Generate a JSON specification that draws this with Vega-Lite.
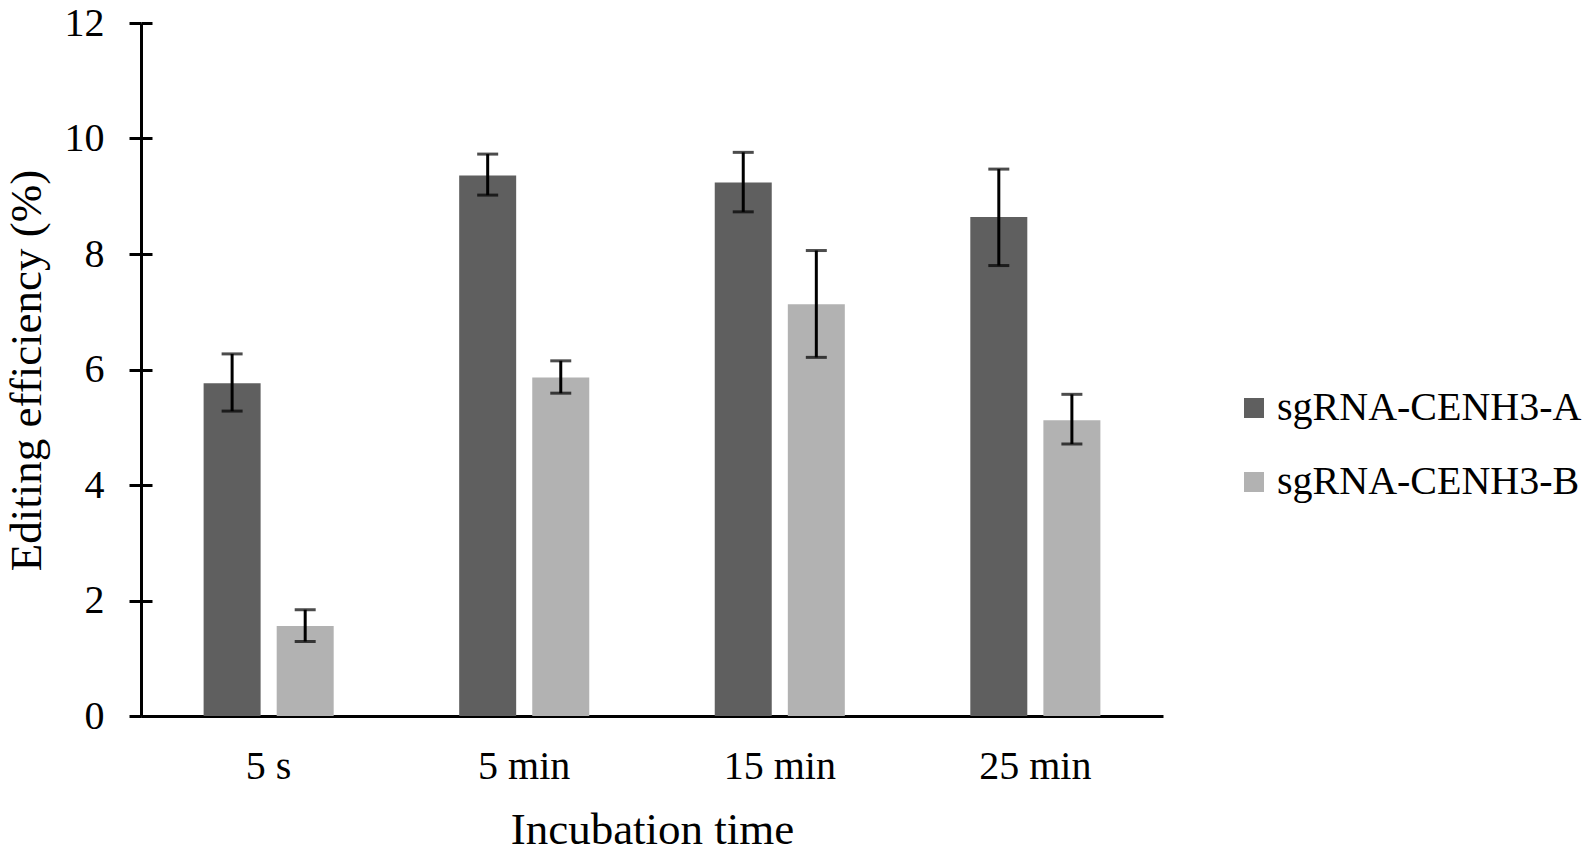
{
  "$schema": "https://vega.github.io/schema/vega-lite/v6.json",
  "autosize": {"type": "none"},
  "width": 1022,
  "height": 693,
  "padding": {"left": 141, "top": 23, "right": 419, "bottom": 138},
  "background": "white",
  "config": {
    "font": "Liberation Serif",
    "view": {"stroke": null},
    "axis": {"labelFont": "Liberation Serif", "titleFont": "Liberation Serif", "labelColor": "black", "titleColor": "black", "domainColor": "black", "tickColor": "black", "titleFontWeight": "normal"},
    "legend": {"labelFont": "Liberation Serif"}
  },
  "data": {
    "values": [
      {"time": "5 s", "group": "sgRNA-CENH3-A", "value": 5.76, "lo": 5.28, "hi": 6.27},
      {"time": "5 s", "group": "sgRNA-CENH3-B", "value": 1.56, "lo": 1.29, "hi": 1.84},
      {"time": "5 min", "group": "sgRNA-CENH3-A", "value": 9.36, "lo": 9.02, "hi": 9.73},
      {"time": "5 min", "group": "sgRNA-CENH3-B", "value": 5.86, "lo": 5.59, "hi": 6.15},
      {"time": "15 min", "group": "sgRNA-CENH3-A", "value": 9.24, "lo": 8.73, "hi": 9.76},
      {"time": "15 min", "group": "sgRNA-CENH3-B", "value": 7.13, "lo": 6.21, "hi": 8.06},
      {"time": "25 min", "group": "sgRNA-CENH3-A", "value": 8.64, "lo": 7.8, "hi": 9.47},
      {"time": "25 min", "group": "sgRNA-CENH3-B", "value": 5.12, "lo": 4.71, "hi": 5.57}
    ]
  },
  "encoding": {
    "x": {
      "field": "time",
      "type": "nominal",
      "sort": ["5 s", "5 min", "15 min", "25 min"],
      "scale": {"paddingInner": 0.491, "paddingOuter": 0.245},
      "axis": {
        "title": "Incubation time",
        "titleFontSize": 45,
        "titleBaseline": "alphabetic",
        "titleX": 511,
        "titleY": 127,
        "labelFontSize": 40,
        "labelAngle": 0,
        "labelBaseline": "alphabetic",
        "labelPadding": 62,
        "ticks": false,
        "domainWidth": 3
      }
    },
    "xOffset": {
      "field": "group",
      "type": "nominal",
      "scale": {"paddingInner": 0.22, "paddingOuter": 0}
    }
  },
  "resolve": {"scale": {"y": "independent"}, "axis": {"y": "independent"}},
  "layer": [
    {
      "layer": [
        {
          "mark": {"type": "bar"},
          "encoding": {
            "y": {
              "field": "value",
              "type": "quantitative",
              "scale": {"domain": [0, 12], "nice": false},
              "axis": {
                "orient": "left",
                "title": "Editing efficiency (%)",
                "titleFontSize": 45,
                "titleAngle": -90,
                "titleBaseline": "alphabetic",
                "titleAlign": "center",
                "titleX": -101,
                "titleY": 347,
                "values": [0, 2, 4, 6, 8, 10, 12],
                "format": "d",
                "labelFontSize": 40,
                "labelPadding": 25,
                "tickSize": 12,
                "tickWidth": 3,
                "domainWidth": 3,
                "grid": false
              }
            },
            "color": {
              "field": "group",
              "type": "nominal",
              "scale": {"domain": ["sgRNA-CENH3-A", "sgRNA-CENH3-B"], "range": ["#5f5f5f", "#b2b2b2"]},
              "legend": {
                "title": null,
                "orient": "none",
                "legendX": 1093,
                "legendY": 365,
                "padding": 0,
                "symbolType": "square",
                "symbolSize": 400,
                "symbolStrokeWidth": 0,
                "symbolOpacity": 1,
                "labelFontSize": 40,
                "labelColor": "black",
                "labelLimit": 0,
                "labelOffset": 3,
                "rowPadding": 34
              }
            }
          }
        },
        {
          "mark": {"type": "tick", "color": "black", "thickness": 3, "size": 21, "orient": "horizontal"},
          "encoding": {
            "y": {"field": "hi", "type": "quantitative"}
          }
        },
        {
          "mark": {"type": "tick", "color": "black", "thickness": 3, "size": 21, "orient": "horizontal"},
          "encoding": {
            "y": {"field": "lo", "type": "quantitative"}
          }
        }
      ]
    },
    {
      "mark": {"type": "rule", "color": "black", "strokeWidth": 3},
      "encoding": {
        "y": {
          "field": "lo",
          "type": "quantitative",
          "scale": {"domain": [0, 12], "nice": false},
          "axis": {
            "orient": "right",
            "offset": -1022,
            "title": null,
            "labels": false,
            "domain": false,
            "grid": false,
            "values": [0, 2, 4, 6, 8, 10, 12],
            "tickSize": 11,
            "tickWidth": 3,
            "tickColor": "black"
          }
        },
        "y2": {"field": "hi"}
      }
    }
  ]
}
